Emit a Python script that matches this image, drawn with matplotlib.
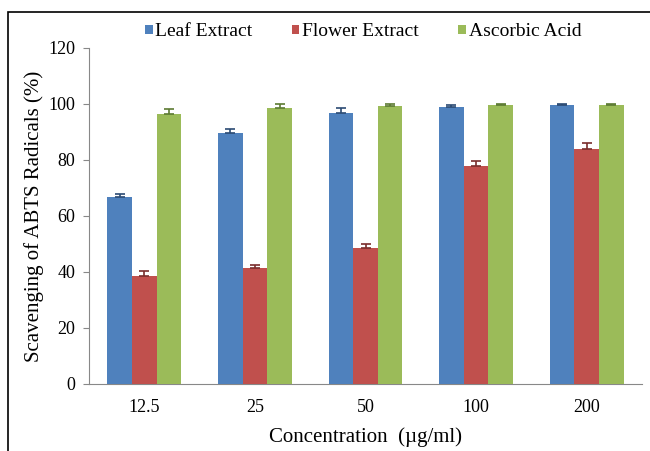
import matplotlib
matplotlib.use("Agg")
import matplotlib.pyplot as plt
from matplotlib.patches import Rectangle
import numpy as np

plt.rcParams["font.family"] = ["Liberation Serif", "DejaVu Serif"]

# ── Data ──────────────────────────────────────────────────────────────────────
concentrations = ["12.5", "25", "50", "100", "200"]
series_names = ["Leaf Extract", "Flower Extract", "Ascorbic Acid"]
leaf = [66.8, 89.7, 96.8, 99.0, 99.8]
flower = [38.6, 41.4, 48.5, 77.8, 84.0]
ascorbic = [96.4, 98.5, 99.2, 99.8, 99.8]
leaf_err = [1.2, 1.5, 1.8, 0.8, 0.3]
flower_err = [1.8, 1.0, 1.5, 1.8, 2.2]
ascorbic_err = [1.8, 1.4, 0.8, 0.3, 0.3]

COLOURS = ["#4F81BD", "#C0504D", "#9BBB59"]
ERR_COLOURS = ["#2B4A73", "#7A2E2C", "#5C7A32"]

fig = plt.figure(figsize=(6.5, 4.51), dpi=100)
ax = fig.add_axes([89 / 650, 1 - 384 / 451, 553 / 650, 336 / 451])

x = np.arange(len(concentrations))
width = 0.223
values = [leaf, flower, ascorbic]
errors = [leaf_err, flower_err, ascorbic_err]

for i, (vals, errs) in enumerate(zip(values, errors)):
    pos = x + (i - 1) * width
    ax.bar(pos, vals, width, color=COLOURS[i], label=series_names[i], zorder=3)
    ax.errorbar(pos, vals, yerr=[np.zeros(len(errs)), errs], fmt="none",
                ecolor=ERR_COLOURS[i], elinewidth=1.2, capsize=3.5, capthick=1.2,
                zorder=4)

ax.set_xlim(-0.5, len(concentrations) - 0.5)
ax.set_ylim(0, 120)
ax.set_yticks(range(0, 121, 20))
ax.set_xticks(x)
ax.set_xticklabels(concentrations, fontsize=13)
ax.tick_params(axis="y", labelsize=13, length=4, color="#888888", direction="out", pad=6)
ax.tick_params(axis="x", length=0, pad=11)
for side in ["top", "right"]:
    ax.spines[side].set_visible(False)
for side in ["left", "bottom"]:
    ax.spines[side].set_color("#888888")

ax.set_ylabel("Scavenging of ABTS Radicals (%)", fontsize=15, labelpad=3)
ax.set_xlabel("Concentration  (\u00b5g/ml)", fontsize=15, labelpad=8)

fig.legend(*ax.get_legend_handles_labels(), loc="center",
           bbox_to_anchor=(363 / 650, 1 - 32 / 451), ncol=3, frameon=False,
           fontsize=14, handlelength=0.4, handleheight=0.4, handletextpad=0.15,
           columnspacing=2.0)

# outer frame
fig.patches.append(Rectangle((8 / 650, -0.1), 1.1, 1 - 12 / 451 + 0.1,
                             transform=fig.transFigure, fill=False,
                             edgecolor="black", linewidth=1.2))

fig.savefig("out.png", dpi=100)
